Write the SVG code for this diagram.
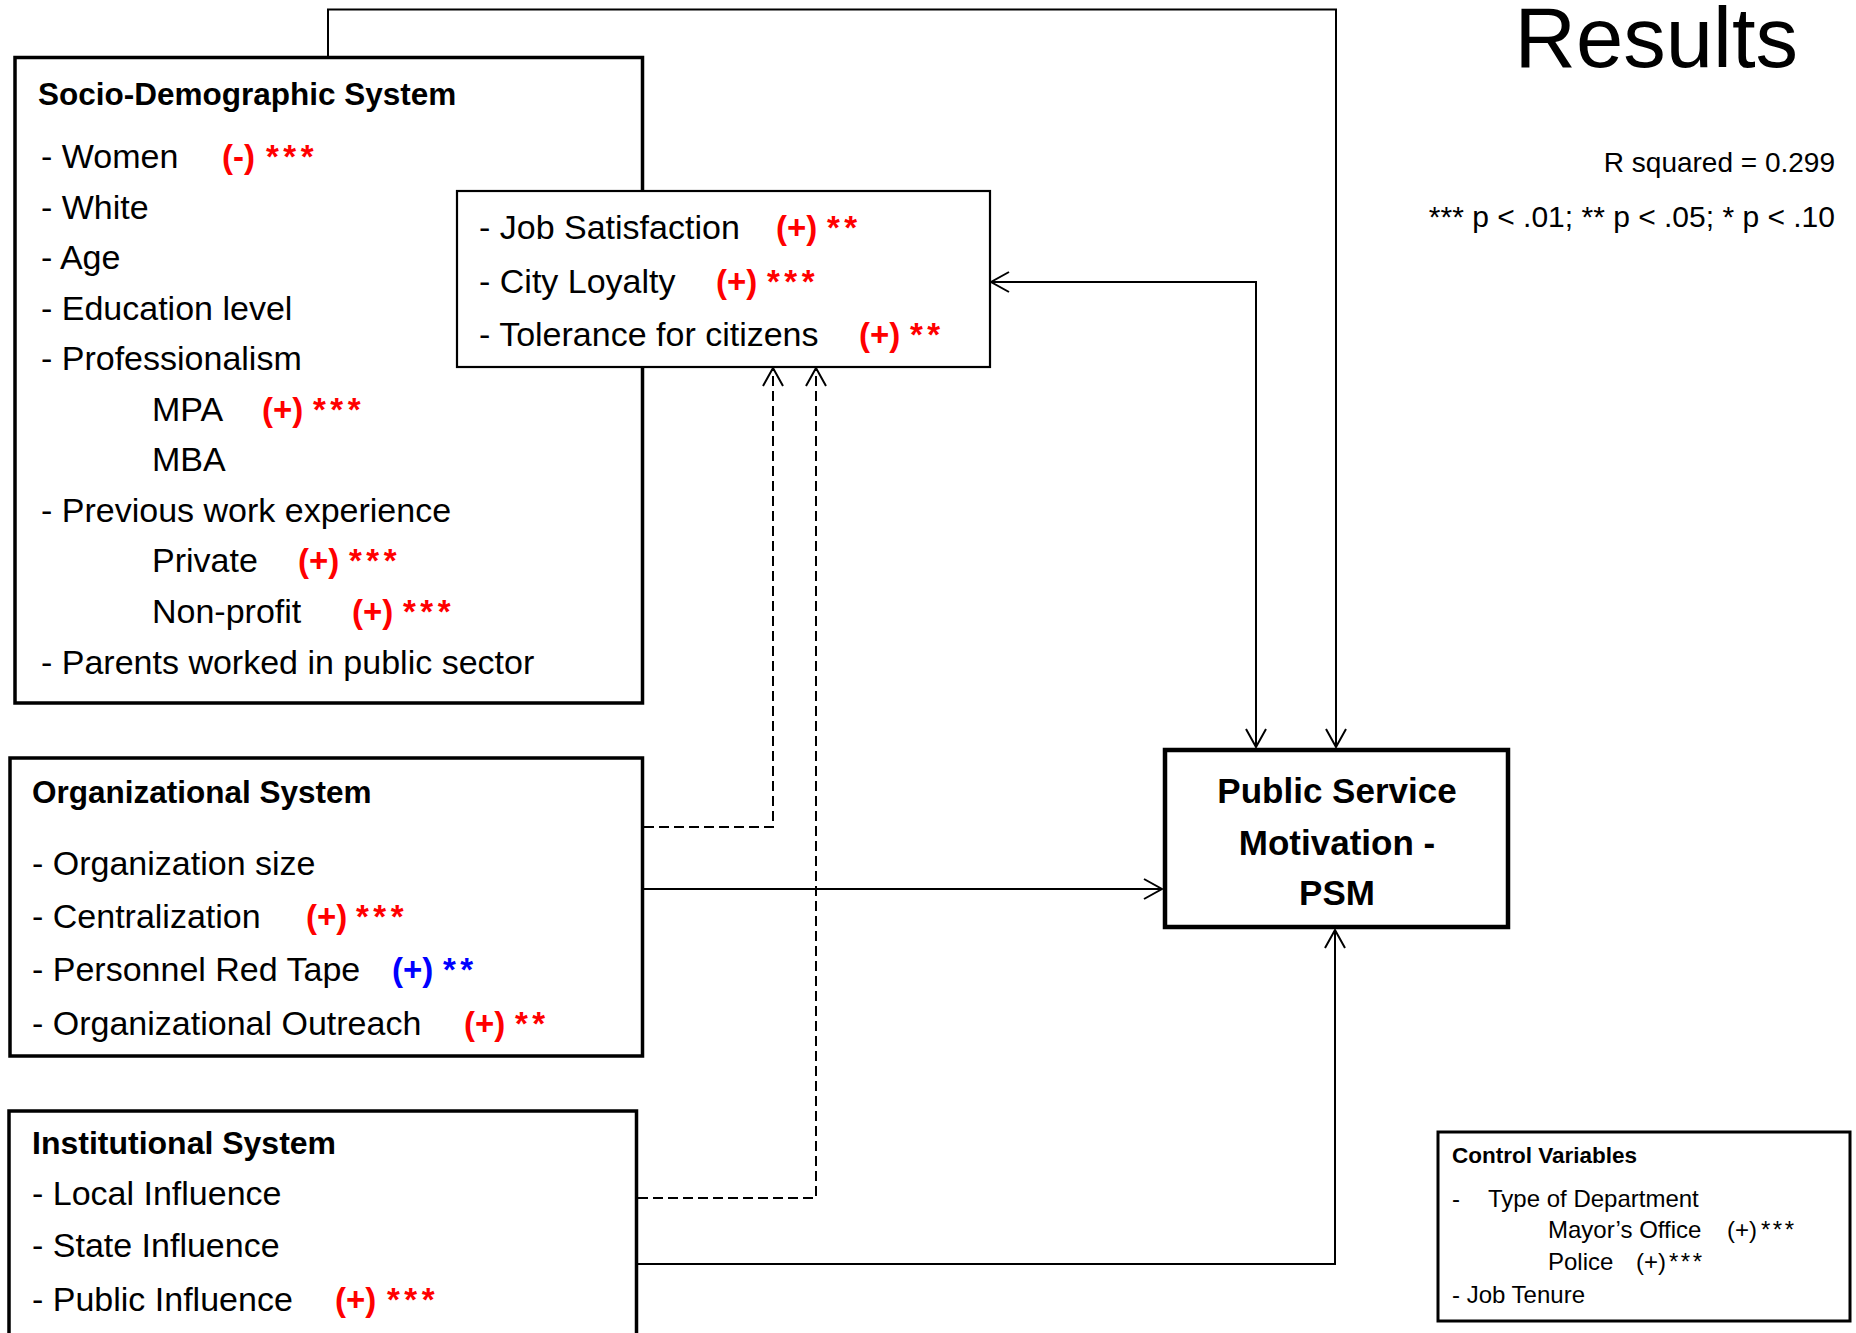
<svg xmlns="http://www.w3.org/2000/svg" width="1856" height="1333" viewBox="0 0 1856 1333">
<style>
text{font-family:"Liberation Sans",Arial,sans-serif;fill:#000}
.box{fill:#fff;stroke:#000}
.hd{font-weight:bold;font-size:31.5px}
.it{font-size:34px}
.r{fill:#ff0000;font-weight:bold;font-size:33px}
.b{fill:#0000ff;font-weight:bold;font-size:33px}
.st{letter-spacing:4.5px}
.psm{font-weight:bold;font-size:35px;text-anchor:middle}
.cv{font-size:24px}
.cvs{letter-spacing:2.5px}
.cvh{font-weight:bold;font-size:22.5px}
.note{text-anchor:end}
.ln{fill:none;stroke:#000;stroke-width:2}
.dash{stroke-dasharray:10,5}
</style>
<defs>
<marker id="arr" markerUnits="userSpaceOnUse" viewBox="-20 -12 22 24" refX="0" refY="0" markerWidth="22" markerHeight="24" orient="auto-start-reverse">
<path d="M-18,-10 L0,0 L-18,10" fill="none" stroke="#000" stroke-width="2"/>
</marker>
</defs>

<text x="1798" y="67" style="font-size:85px;text-anchor:end">Results</text>
<text class="note" x="1835" y="172" style="font-size:28px">R squared = 0.299</text>
<text class="note" x="1835" y="227" style="font-size:30px">*** p &lt; .01; ** p &lt; .05; * p &lt; .10</text>

<g id="connectors">
<path class="ln" d="M328,57 V9.5 H1336 V747" marker-end="url(#arr)"/>
<path class="ln" d="M991,282 H1256 V747" marker-start="url(#arr)" marker-end="url(#arr)"/>
<path class="ln" d="M644,889 H1162" marker-end="url(#arr)"/>
<path class="ln" d="M638,1264 H1335 V930" marker-end="url(#arr)"/>
<path class="ln dash" d="M644,827 H773 V368" marker-end="url(#arr)"/>
<path class="ln dash" d="M638,1198 H816 V368" marker-end="url(#arr)"/>
</g>

<g id="socio">
<rect class="box" x="15" y="57.5" width="627.5" height="645.5" stroke-width="3.5"/>
<text class="hd" x="38" y="105">Socio-Demographic System</text>
<text class="it" x="41" y="168">- Women</text>
<text class="r" x="222" y="168">(-)</text><text class="r st" x="266" y="168">***</text>
<text class="it" x="41" y="219">- White</text>
<text class="it" x="41" y="269">- Age</text>
<text class="it" x="41" y="320">- Education level</text>
<text class="it" x="41" y="370">- Professionalism</text>
<text class="it" x="152" y="421">MPA</text>
<text class="r" x="262" y="421">(+)</text><text class="r st" x="313" y="421">***</text>
<text class="it" x="152" y="471">MBA</text>
<text class="it" x="41" y="522">- Previous work experience</text>
<text class="it" x="152" y="572">Private</text>
<text class="r" x="298" y="572">(+)</text><text class="r st" x="349" y="572">***</text>
<text class="it" x="152" y="623">Non-profit</text>
<text class="r" x="352" y="623">(+)</text><text class="r st" x="403" y="623">***</text>
<text class="it" x="41" y="674">- Parents worked in public sector</text>
</g>

<g id="mediators">
<rect class="box" x="457" y="191" width="533" height="176" stroke-width="2.2"/>
<text class="it" x="479" y="239">- Job Satisfaction</text>
<text class="r" x="776" y="239">(+)</text><text class="r st" x="827" y="239">**</text>
<text class="it" x="479" y="293">- City Loyalty</text>
<text class="r" x="716" y="293">(+)</text><text class="r st" x="767" y="293">***</text>
<text class="it" x="479" y="346">- Tolerance for citizens</text>
<text class="r" x="859" y="346">(+)</text><text class="r st" x="910" y="346">**</text>
</g>

<g id="organizational">
<rect class="box" x="10" y="758" width="632.5" height="298" stroke-width="3.5"/>
<text class="hd" x="32" y="803">Organizational System</text>
<text class="it" x="32" y="875">- Organization size</text>
<text class="it" x="32" y="928">- Centralization</text>
<text class="r" x="306" y="928">(+)</text><text class="r st" x="356" y="928">***</text>
<text class="it" x="32" y="981">- Personnel Red Tape</text>
<text class="b" x="392" y="981">(+)</text><text class="b st" x="443" y="981">**</text>
<text class="it" x="32" y="1035">- Organizational Outreach</text>
<text class="r" x="464" y="1035">(+)</text><text class="r st" x="515" y="1035">**</text>
</g>

<g id="institutional">
<rect class="box" x="9" y="1111" width="627.5" height="240" stroke-width="3.5"/>
<text class="hd" x="32" y="1154" style="font-size:32px">Institutional System</text>
<text class="it" x="32" y="1205">- Local Influence</text>
<text class="it" x="32" y="1257">- State Influence</text>
<text class="it" x="32" y="1311">- Public Influence</text>
<text class="r" x="335" y="1311">(+)</text><text class="r st" x="387" y="1311">***</text>
</g>

<g id="psm">
<rect class="box" x="1165" y="750" width="343" height="177" stroke-width="4.5"/>
<text class="psm" x="1337" y="803">Public Service</text>
<text class="psm" x="1337" y="855">Motivation -</text>
<text class="psm" x="1337" y="905">PSM</text>
</g>

<g id="controls">
<rect class="box" x="1438" y="1132" width="412" height="189" stroke-width="3"/>
<text class="cvh" x="1452" y="1163">Control Variables</text>
<text class="cv" x="1452" y="1207">-</text>
<text class="cv" x="1488" y="1207">Type of Department</text>
<text class="cv" x="1548" y="1238">Mayor’s Office</text>
<text class="cv" x="1727" y="1238">(+)</text><text class="cv cvs" x="1761" y="1238">***</text>
<text class="cv" x="1548" y="1270">Police</text>
<text class="cv" x="1636" y="1270">(+)</text><text class="cv cvs" x="1669" y="1270">***</text>
<text class="cv" x="1452" y="1303">- Job Tenure</text>
</g>
</svg>
